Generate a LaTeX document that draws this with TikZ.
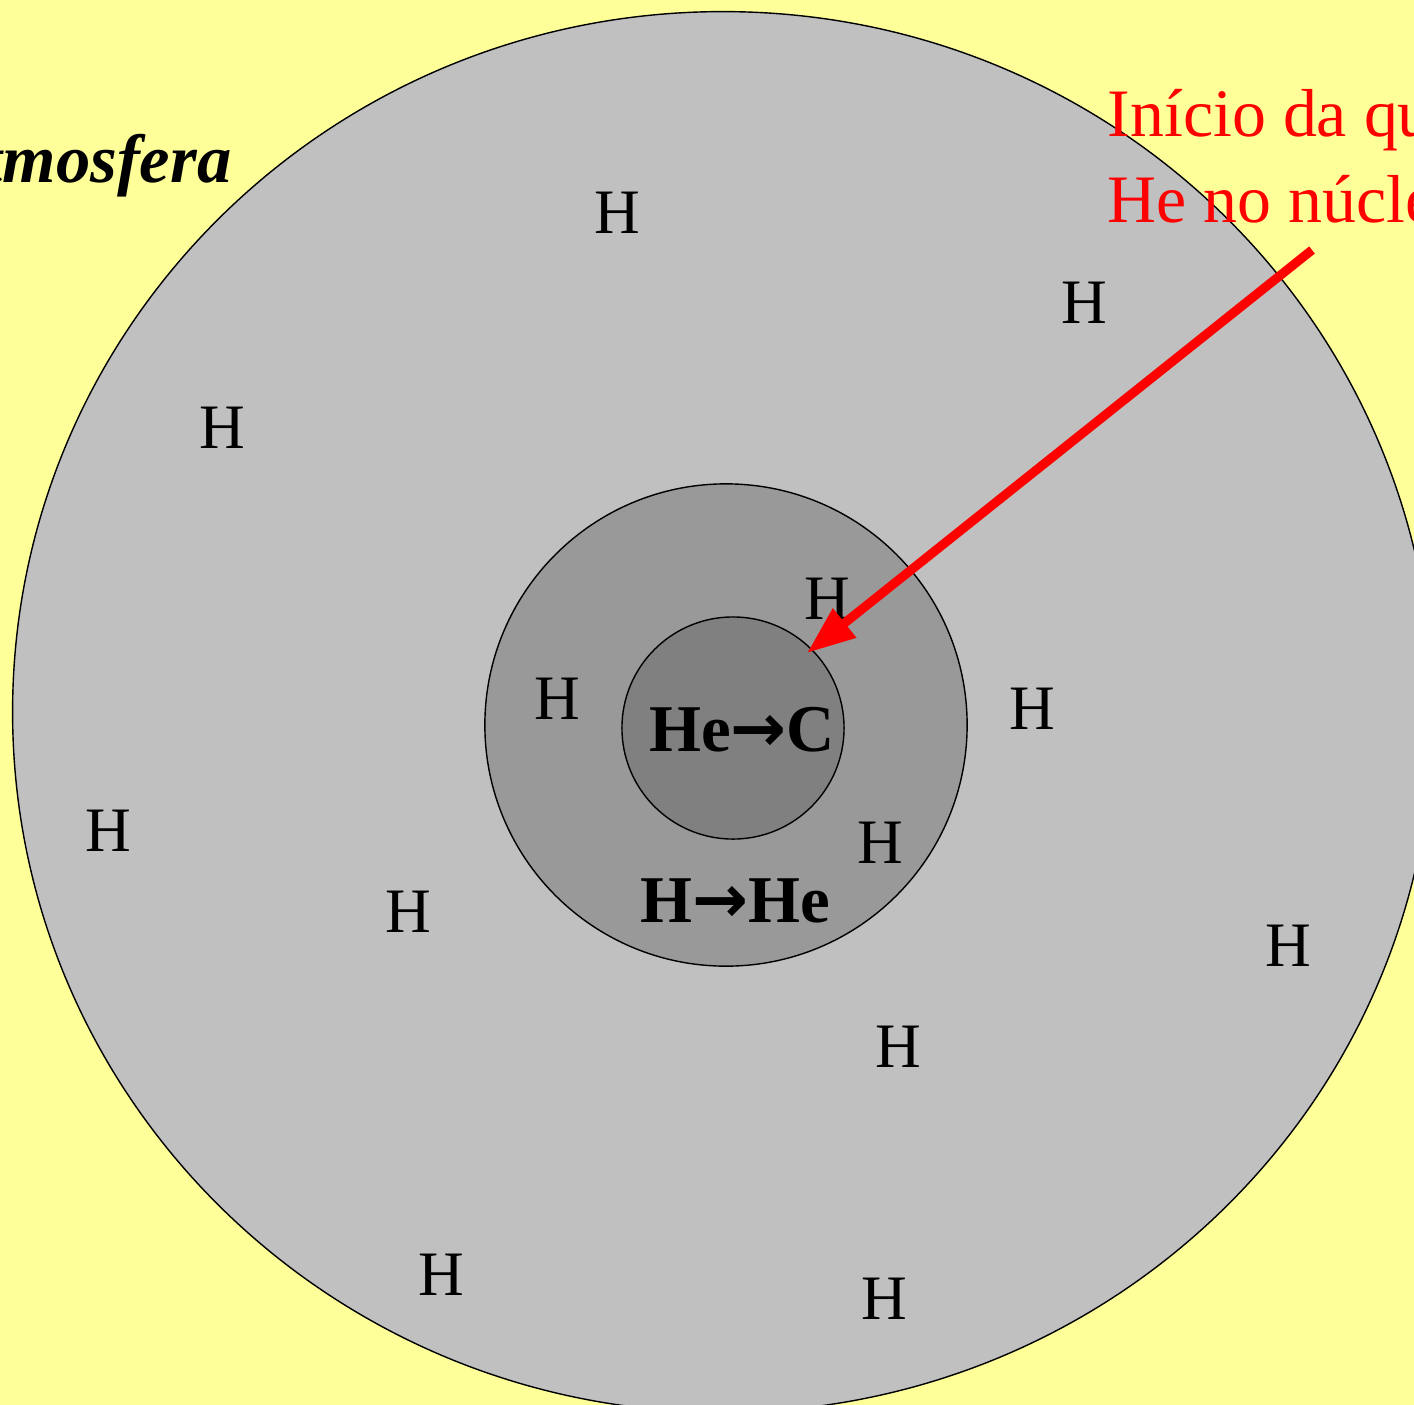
\documentclass[tikz,border=0pt]{standalone}
\usepackage{fontspec}
\setmainfont{Liberation Serif}
\newfontfamily\arrowfont{DejaVu Sans}
\usepackage{tikz}
\usetikzlibrary{arrows.meta}

\definecolor{bgyellow}{RGB}{255,255,153}
\definecolor{envgray}{RGB}{192,192,192}
\definecolor{shellgray}{RGB}{153,153,153}
\definecolor{coregray}{RGB}{128,128,128}

\newcommand{\burnto}{{\arrowfont\bfseries →}}

\begin{document}
\begin{tikzpicture}[x=0.01cm, y=-0.01cm,
    layer/.style={draw=black, line width=0.4pt},
    hlab/.style={inner sep=0pt, font=\fontsize{18}{21}\selectfont},
    burn/.style={inner sep=0pt, font=\fontsize{19}{23}\selectfont\bfseries},
    note/.style={inner sep=0pt, align=left, text=red, font=\fontsize{19.3}{24.2}\selectfont},
    arr/.style={-{Triangle[length=13.7pt, width=10pt]}, line width=2.6pt, red}
  ]
    % Page and background
    \useasboundingbox (0,0) rectangle (1414,1405);
    \clip (0,0) rectangle (1414,1405);
    \fill[bgyellow] (0,0) rectangle (1414,1405);

    % Star layers
    \draw[layer, fill=envgray]   (723,712) circle[x radius=7.10cm, y radius=7.00cm];
    \draw[layer, fill=shellgray] (726,725) circle[radius=2.41cm];
    \draw[layer, fill=coregray]  (733,728) circle[radius=1.11cm];

    % Labels
    \node[anchor=base east, inner sep=0pt, font=\fontsize{19.5}{24}\selectfont\bfseries\itshape] (atm) at (232,182) {tmosfera};
    \node[note, anchor=base west] (start) at (1107,222) {Início da qu\\He no núcle};
    \node[burn] (hec) at (742,730) {He\burnto C};
    \node[burn] (hhe) at (735,901) {H\burnto He};

    % Hydrogen everywhere
    \node[hlab] (h1)  at (617,213)  {H};
    \node[hlab] (h2)  at (1084,303) {H};
    \node[hlab] (h3)  at (222,428)  {H};
    \node[hlab] (h4)  at (827,599)  {H};
    \node[hlab] (h5)  at (557,699)  {H};
    \node[hlab] (h6)  at (1032,709) {H};
    \node[hlab] (h7)  at (108,831)  {H};
    \node[hlab] (h8)  at (880,843)  {H};
    \node[hlab] (h9)  at (408,912)  {H};
    \node[hlab] (h10) at (1288,946) {H};
    \node[hlab] (h11) at (898,1047) {H};
    \node[hlab] (h12) at (441,1275) {H};
    \node[hlab] (h13) at (884,1299) {H};

    % Arrow onto the core
    \coordinate (tail) at (1312,250);
    \coordinate (tip)  at (807,653);
    \draw[arr] (tail) -- (tip);
\end{tikzpicture}
\end{document}
